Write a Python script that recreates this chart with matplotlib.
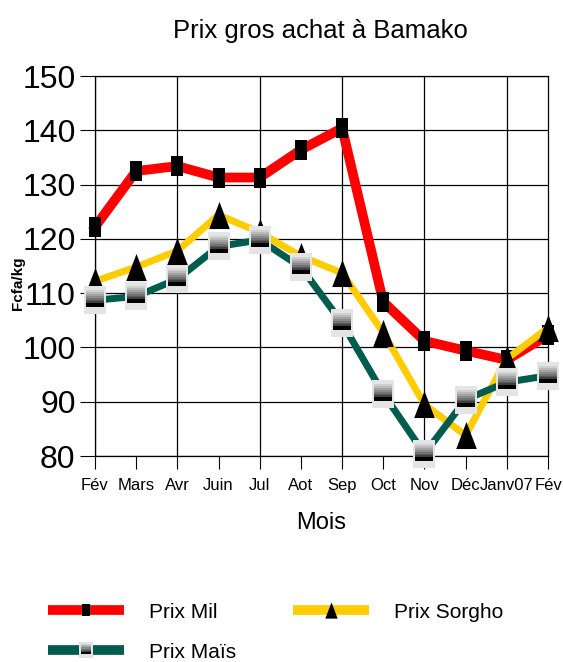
import numpy as np
import matplotlib
matplotlib.use('Agg')
from matplotlib import pyplot as plt
from matplotlib.path import Path
from matplotlib.lines import Line2D

mois = ['Fév', 'Mars', 'Avr', 'Juin', 'Jul', 'Aot', 'Sep', 'Oct', 'Nov', 'Déc', 'Janv07', 'Fév']
prix_mil = [122.2, 132.5, 133.4, 131.3, 131.3, 136.4, 140.4, 108.4, 101.2, 99.4, 97.7, 102.3]
prix_sorgho = [112.2, 114.8, 117.8, 124.4, 121.2, 116.8, 113.7, 102.7, 89.5, 83.8, 97.9, 103.6]
prix_mais = [108.7, 109.4, 112.6, 118.6, 119.8, 114.8, 104.5, 91.5, 80.4, 90.4, 93.6, 94.8]

plt.rcParams['font.family'] = ['Liberation Sans', 'DejaVu Sans']


def rect(w, h, y0=0.0):
    return Path([(-w / 2, y0 - h / 2), (w / 2, y0 - h / 2), (w / 2, y0 + h / 2),
                 (-w / 2, y0 + h / 2), (-w / 2, y0 - h / 2)], closed=True)


def marker_size(p, s):
    # keep every path in the same frame as the outer box
    return 2 * s * np.max(np.abs(p.vertices))


sq_mil = rect(0.6, 1.0)
tri = Path([(-0.38, -0.5), (0.38, -0.5), (0.0, 0.5), (-0.38, -0.5)], closed=True)
box = rect(0.82, 1.0)
strips = []
grays = ['#d0d0d0', '#bababa', '#a2a2a2', '#8a8a8a', '#727272', '#5a5a5a', '#404040', '#000000', '#000000']
n = len(grays)
top, bot = 0.36, -0.26
for k, g in enumerate(grays):
    hh = (top - bot) / n
    yc = top - hh * (k + 0.5)
    strips.append((rect(0.64, hh * 1.05, yc), g))

x = np.arange(len(mois))

fig = plt.figure(figsize=(5.63, 6.62), dpi=100)
ax = fig.add_axes([95 / 563, 1 - 456 / 662, 453 / 563, 380 / 662])

l_mil, = ax.plot(x, prix_mil, color='#ff0000', lw=7, marker=sq_mil, ms=14.5,
                 mfc='black', mec='black', mew=0, zorder=3, clip_on=False)
l_sor, = ax.plot(x, prix_sorgho, color='#ffcc00', lw=5, marker=tri, ms=19.5,
                 mfc='black', mec='black', mew=0, zorder=4, clip_on=False)
l_mai, = ax.plot(x, prix_mais, color='#005c4e', lw=5, marker=box, ms=20,
                 mfc='#e4e4e4', mec='#e4e4e4', mew=0, zorder=5, clip_on=False)
mais_parts = [l_mai]
for p, g in strips:
    m, = ax.plot(x, prix_mais, ls='none', marker=p, ms=marker_size(p, 20),
                 mfc=g, mec=g, mew=0, zorder=6, clip_on=False)
    mais_parts.append(m)

ax.set_xlim(0, 11)
ax.set_ylim(80, 150)
ax.set_yticks(np.arange(80, 151, 10))
ax.set_xticks(x)
ax.set_xticklabels(mois, fontsize=12)
for t in ax.get_yticklabels():
    t.set_fontsize(23)
ax.tick_params(axis='x', length=9.5, width=0.8, color='black', pad=6)
ax.tick_params(axis='y', length=11, width=0.8, color='black', pad=3)

ax.set_axisbelow(True)
ax.yaxis.grid(True, color='black', lw=0.9)
for xv in range(0, 11, 2):
    ax.axvline(xv, color='black', lw=0.9, zorder=0.5)
for s in ax.spines.values():
    s.set_color('black')
    s.set_linewidth(0.9)

ax.set_xlabel('Mois', fontsize=17)
ax.xaxis.set_label_coords(0.5, -(523 - 456) / 380)
ax.xaxis.label.set_va('center')
ax.set_ylabel('Fcfa/kg', fontsize=11, fontweight='bold')
ax.yaxis.set_label_coords(-(95 - 18) / 453, (456 - 283) / 380)
ax.yaxis.label.set_va('center')
fig.text(320 / 563, 1 - 31 / 662, 'Prix gros achat à Bamako', fontsize=18.5,
         ha='center', va='center')

h_mil = Line2D([], [], color='#ff0000', lw=7, marker=sq_mil, ms=14.5, mfc='black', mew=0,
               solid_capstyle='butt')
h_sor = Line2D([], [], color='#ffcc00', lw=7, marker=tri, ms=19.5, mfc='black', mew=0,
               solid_capstyle='butt')
l_mai.set_solid_capstyle('butt')
leg = fig.legend([h_mil, tuple(mais_parts), h_sor], ['Prix Mil', 'Prix Maïs', 'Prix Sorgho'],
                 ncol=2, loc='upper left', bbox_to_anchor=(29 / 563, 1 - 584 / 662),
                 frameon=False, fontsize=15, handlelength=3.65, handletextpad=1.2,
                 columnspacing=2.75, labelspacing=1.0, markerscale=0.6)
for lh in leg.get_lines():
    lh.set_linewidth(7)

fig.savefig('out.png', dpi=100)
